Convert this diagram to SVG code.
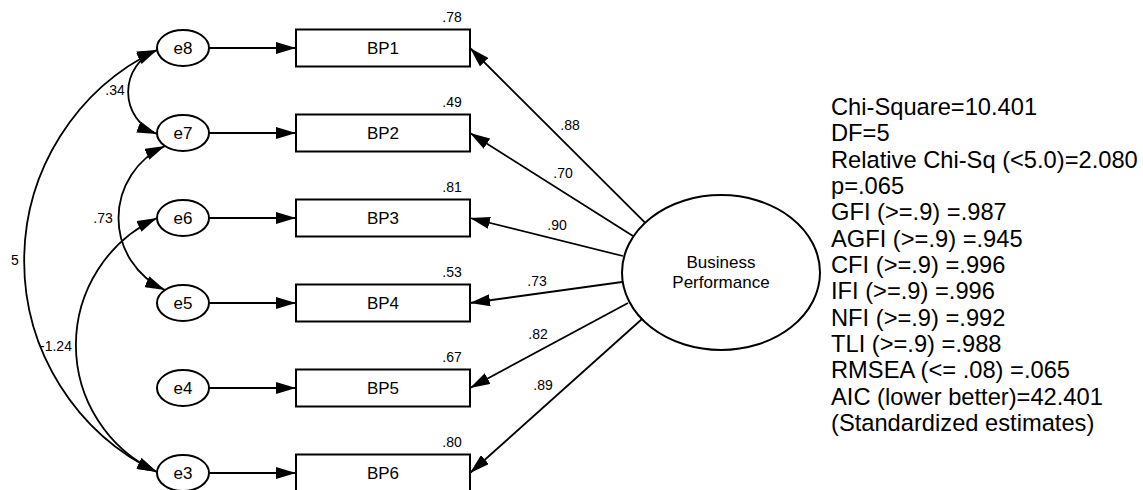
<svg xmlns="http://www.w3.org/2000/svg" width="1143" height="490" viewBox="0 0 1143 490">
<style>
.box{fill:#fff;stroke:#000;stroke-width:2}
.el{fill:#fff;stroke:#000;stroke-width:2}
text{font-family:"Liberation Sans",Arial,sans-serif;fill:#000}
.lbl{font-size:17px;text-anchor:middle}
.num{font-size:14px;text-anchor:middle}
.fit{font-size:23.7px}
#connectors line,#connectors path{stroke:#000;stroke-width:1.8;fill:none}
.ah{marker-end:url(#ah)}
.cov{marker-start:url(#ah);marker-end:url(#ah)}
</style>
<defs>
<marker id="ah" viewBox="0 0 20 12" refX="20" refY="6" markerWidth="20" markerHeight="12" markerUnits="userSpaceOnUse" orient="auto-start-reverse">
<path d="M0,0 L20,6 L0,12 z" fill="#000"/>
</marker>
</defs>
<rect width="1143" height="490" fill="#fff"/>
<g id="connectors">
<line class="ah" x1="209" y1="48" x2="296" y2="48"/>
<line class="ah" x1="209" y1="133" x2="296" y2="133"/>
<line class="ah" x1="209" y1="218" x2="296" y2="218"/>
<line class="ah" x1="209" y1="303" x2="296" y2="303"/>
<line class="ah" x1="209" y1="388" x2="296" y2="388"/>
<line class="ah" x1="209" y1="473" x2="296" y2="473"/>
<line class="ah" x1="645" y1="222.7" x2="470" y2="48"/>
<line class="ah" x1="633" y1="236" x2="470" y2="133"/>
<line class="ah" x1="623" y1="256" x2="470" y2="218"/>
<line class="ah" x1="622" y1="282" x2="470" y2="303"/>
<line class="ah" x1="628" y1="303" x2="470" y2="388"/>
<line class="ah" x1="642" y1="319" x2="470" y2="473"/>
<path class="cov" d="M157,50 A45,45 0 0,0 157,134"/>
<path class="cov" d="M165,146 A79,79 0 0,0 165,290"/>
<path class="cov" d="M157,218 A140,140 0 0,0 157,472"/>
<path class="cov" d="M157,50 A234,234 0 0,0 157,472"/>
<text class="num" x="570" y="130">.88</text>
<text class="num" x="563" y="178">.70</text>
<text class="num" x="557" y="230">.90</text>
<text class="num" x="537" y="286">.73</text>
<text class="num" x="538" y="339">.82</text>
<text class="num" x="543" y="390">.89</text>
<text class="num" x="115" y="95">.34</text>
<text class="num" x="103" y="223">.73</text>
<text class="num" x="15" y="265">5</text>
<text class="num" x="56" y="351">-1.24</text>
</g>
<g id="e8"><ellipse class="el" cx="183" cy="48" rx="26" ry="18"/><text class="lbl" x="183" y="54">e8</text></g>
<g id="e7"><ellipse class="el" cx="183" cy="133" rx="26" ry="18"/><text class="lbl" x="183" y="139">e7</text></g>
<g id="e6"><ellipse class="el" cx="183" cy="218" rx="26" ry="18"/><text class="lbl" x="183" y="224">e6</text></g>
<g id="e5"><ellipse class="el" cx="183" cy="303" rx="26" ry="18"/><text class="lbl" x="183" y="309">e5</text></g>
<g id="e4"><ellipse class="el" cx="183" cy="388" rx="26" ry="18"/><text class="lbl" x="183" y="394">e4</text></g>
<g id="e3"><ellipse class="el" cx="183" cy="473" rx="26" ry="18"/><text class="lbl" x="183" y="479">e3</text></g>
<g id="BP1"><rect class="box" x="296" y="29.5" width="174" height="37"/><text class="lbl" x="383" y="54">BP1</text><text class="num" x="452" y="22">.78</text></g>
<g id="BP2"><rect class="box" x="296" y="114.5" width="174" height="37"/><text class="lbl" x="383" y="139">BP2</text><text class="num" x="452" y="107">.49</text></g>
<g id="BP3"><rect class="box" x="296" y="199.5" width="174" height="37"/><text class="lbl" x="383" y="224">BP3</text><text class="num" x="452" y="192">.81</text></g>
<g id="BP4"><rect class="box" x="296" y="284.5" width="174" height="37"/><text class="lbl" x="383" y="309">BP4</text><text class="num" x="452" y="277">.53</text></g>
<g id="BP5"><rect class="box" x="296" y="369.5" width="174" height="37"/><text class="lbl" x="383" y="394">BP5</text><text class="num" x="452" y="362">.67</text></g>
<g id="BP6"><rect class="box" x="296" y="454.5" width="174" height="37"/><text class="lbl" x="383" y="479">BP6</text><text class="num" x="452" y="447">.80</text></g>
<g id="BusinessPerformance"><ellipse class="el" cx="721" cy="272.5" rx="99" ry="77.5"/><text class="lbl" x="721" y="268">Business</text><text class="lbl" x="721" y="288">Performance</text></g>
<g id="fit">
<text class="fit" x="831" y="115">Chi-Square=10.401</text>
<text class="fit" x="831" y="141.3">DF=5</text>
<text class="fit" x="831" y="167.7">Relative Chi-Sq (&lt;5.0)=2.080</text>
<text class="fit" x="831" y="194">p=.065</text>
<text class="fit" x="831" y="220.3">GFI (&gt;=.9) =.987</text>
<text class="fit" x="831" y="246.7">AGFI (&gt;=.9) =.945</text>
<text class="fit" x="831" y="273">CFI (&gt;=.9) =.996</text>
<text class="fit" x="831" y="299.3">IFI (&gt;=.9) =.996</text>
<text class="fit" x="831" y="325.7">NFI (&gt;=.9) =.992</text>
<text class="fit" x="831" y="352">TLI (&gt;=.9) =.988</text>
<text class="fit" x="831" y="378.3">RMSEA (&lt;= .08) =.065</text>
<text class="fit" x="831" y="404.7">AIC (lower better)=42.401</text>
<text class="fit" x="831" y="431">(Standardized estimates)</text>
</g>
</svg>
